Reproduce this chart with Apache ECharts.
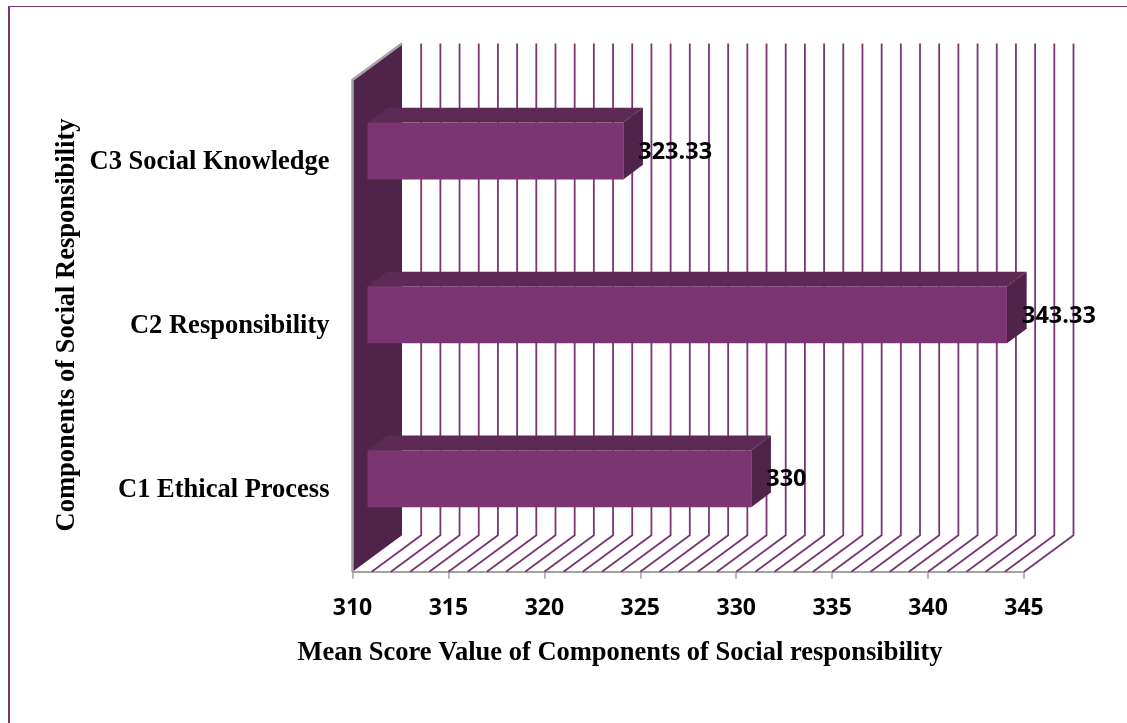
<!DOCTYPE html>
<html>
<head>
<meta charset="utf-8">
<style>html,body{margin:0;padding:0;background:#fff}#chart{width:1127px;height:723px}</style>
<script src="https://cdn.jsdelivr.net/npm/echarts@6/dist/echarts.min.js"></script>
</head>
<body>
<div id="chart"></div>
<script>
// Mean score of each social responsibility component
const categories = ['C1 Ethical Process', 'C2 Responsibility', 'C3 Social Knowledge'];
const meanScores = [330, 343.33, 323.33];
const wallLineValues = [311,312,313,314,315,316,317,318,319,320,321,322,323,324,325,326,327,328,329,330,331,332,333,334,335,336,337,338,339,340,341,342,343,344,345];

const axisMin = 310, axisMax = 345, axisStep = 5;
const xTitle = 'Mean Score Value of Components of Social responsibility';
const yTitle = 'Components of Social Responsibility';

// Oblique projection used for the box: how far the back plane sits from the front plane
const DEPTH = {x: 49.5, y: -36.5};
const BAR_SHIFT = {x: 15, y: -11};
const BAR_DEPTH = {x: 19.7, y: -14.7};
const BAR_RATIO = 0.348;

const PURPLE = '#7b3572', PURPLE_TOP = '#5c2a55', PURPLE_DARK = '#50234a', GREY = '#a3a3a3';

const chart = echarts.init(document.getElementById('chart'), null, {renderer: 'canvas'});

function renderWall(params) {
  const g = params.coordSys;
  const b = g.y + g.height;
  return {
    type: 'group',
    children: [
      {type: 'polygon', shape: {points: [[g.x, g.y], [g.x + DEPTH.x, g.y + DEPTH.y], [g.x + DEPTH.x, b + DEPTH.y], [g.x, b]]},
       style: {fill: PURPLE_DARK}},
      {type: 'polyline', shape: {points: [[g.x, b], [g.x, g.y], [g.x + DEPTH.x, g.y + DEPTH.y]]},
       style: {stroke: GREY, lineWidth: 2.5, fill: 'none'}}
    ]
  };
}

function renderWallLine(params, api) {
  const g = params.coordSys;
  const b = g.y + g.height;
  const x = api.coord([api.value(0), 0])[0];
  return {
    type: 'polyline',
    shape: {points: [[x, b], [x + DEPTH.x, b + DEPTH.y], [x + DEPTH.x, g.y + DEPTH.y]]},
    style: {stroke: PURPLE, lineWidth: 1.8, fill: 'none', lineJoin: 'miter'}
  };
}

function renderBar(params, api) {
  const g = params.coordSys;
  const v = api.value(0);
  const end = api.coord([v, api.value(1)]);
  const h = api.size([0, 1])[1] * BAR_RATIO;
  const x0 = g.x + BAR_SHIFT.x;
  const x1 = end[0] + BAR_SHIFT.x;
  const y0 = end[1] + BAR_SHIFT.y - h / 2;
  const y1 = y0 + h;
  const dx = BAR_DEPTH.x, dy = BAR_DEPTH.y;
  return {
    type: 'group',
    children: [
      {type: 'polygon', shape: {points: [[x0, y0], [x0 + dx, y0 + dy], [x1 + dx, y0 + dy], [x1, y0]]}, style: {fill: PURPLE_TOP}},
      {type: 'polygon', shape: {points: [[x1, y0], [x1 + dx, y0 + dy], [x1 + dx, y1 + dy], [x1, y1]]}, style: {fill: PURPLE_DARK}},
      {type: 'rect', shape: {x: x0, y: y0, width: x1 - x0, height: h}, style: {fill: PURPLE}},
      {type: 'text', z2: 10, style: {
        text: String(v), x: x1 + 15, y: (y0 + y1) / 2 + 1,
        font: 'bold 23.5px "Open Sans", sans-serif', fill: '#000',
        textAlign: 'left', textVerticalAlign: 'middle'
      }}
    ]
  };
}

chart.setOption({
  animation: false,
  backgroundColor: '#fff',
  grid: {left: 352.5, top: 80, width: 671.5, height: 491.7, containLabel: false},
  xAxis: {
    type: 'value', min: axisMin, max: axisMax, interval: axisStep,
    splitLine: {show: false},
    axisLine: {show: true, lineStyle: {color: GREY, width: 2}},
    axisTick: {show: true, length: 7, lineStyle: {color: GREY, width: 1.5}},
    axisLabel: {margin: 25, color: '#000', fontFamily: 'Open Sans', fontWeight: 'bold', fontSize: 23, showMinLabel: true, showMaxLabel: true}
  },
  yAxis: {
    type: 'category', data: categories,
    axisLine: {show: false}, axisTick: {show: false}, splitLine: {show: false},
    axisLabel: {margin: 23, color: '#000', fontFamily: 'Liberation Serif', fontWeight: 'bold', fontSize: 26.5}
  },
  graphic: [
    {type: 'rect', silent: true, shape: {x: 8, y: 6, width: 2, height: 717}, style: {fill: PURPLE}},
    {type: 'rect', silent: true, shape: {x: 8, y: 6, width: 1119, height: 1}, style: {fill: PURPLE}},
    {type: 'text', silent: true, x: 620, y: 653, style: {text: xTitle, fill: '#000', font: 'bold 26.5px "Liberation Serif"', textAlign: 'center', textVerticalAlign: 'middle'}},
    {type: 'text', silent: true, x: 67, y: 325, rotation: Math.PI / 2, style: {text: yTitle, fill: '#000', font: 'bold 26.5px "Liberation Serif"', textAlign: 'center', textVerticalAlign: 'middle'}}
  ],
  series: [
    {type: 'custom', z: 1, silent: true, coordinateSystem: 'cartesian2d', renderItem: renderWall, data: [[axisMin, 0]], clip: false},
    {type: 'custom', z: 2, silent: true, coordinateSystem: 'cartesian2d', renderItem: renderWallLine, data: wallLineValues.map(v => [v, 0]), clip: false},
    {type: 'custom', z: 3, silent: true, coordinateSystem: 'cartesian2d', renderItem: renderBar,
     data: meanScores.map((v, i) => [v, i]), encode: {x: 0, y: 1}, clip: false}
  ]
});
</script>
</body>
</html>
